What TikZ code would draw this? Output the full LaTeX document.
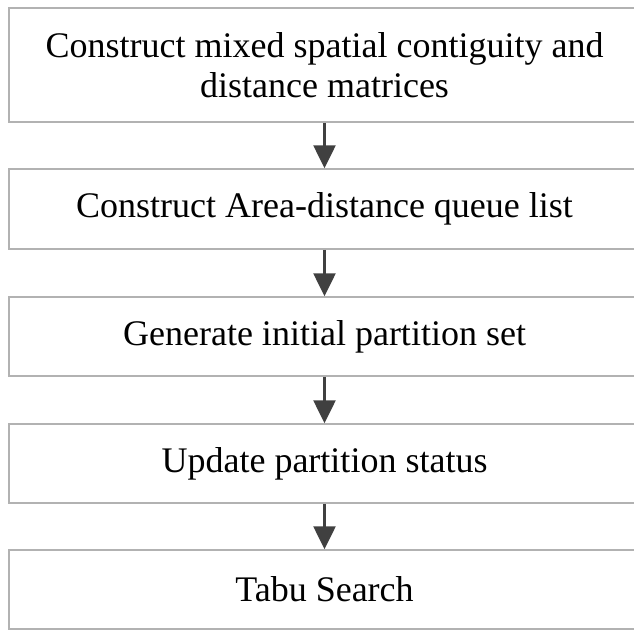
\documentclass[tikz,border=0pt]{standalone}
\usepackage{fontspec}
\setmainfont{Liberation Serif}
\usetikzlibrary{arrows.meta}
\begin{document}
\begin{tikzpicture}[x=1pt,y=1pt,
  stepbox/.style={draw=black!30,line width=1.5pt,fill=white,minimum width=631pt,
    align=center,inner sep=0pt,font=\fontsize{36}{40}\selectfont},
  flowarrow/.style={draw=black!75,line width=2.6pt,-{Triangle[width=22pt,length=23pt]}}]
\useasboundingbox (0,0) rectangle (634,-630);
\node[stepbox,minimum height=114pt] (b1) at (324.5,-65) {Construct mixed spatial contiguity and\\distance matrices};
\node[stepbox,minimum height=80pt] (b2) at (324.5,-209) {Construct Area-distance queue list};
\node[stepbox,minimum height=79pt] (b3) at (324.5,-336.5) {Generate initial partition set};
\node[stepbox,minimum height=79pt] (b4) at (324.5,-463.5) {Update partition status};
\node[stepbox,minimum height=79pt] (b5) at (324.5,-589.5) {Tabu Search};
\foreach \a/\b in {b1/b2,b2/b3,b3/b4,b4/b5}{
  \draw[flowarrow] (\a.south) -- (\b.north);
}
\end{tikzpicture}
\end{document}
